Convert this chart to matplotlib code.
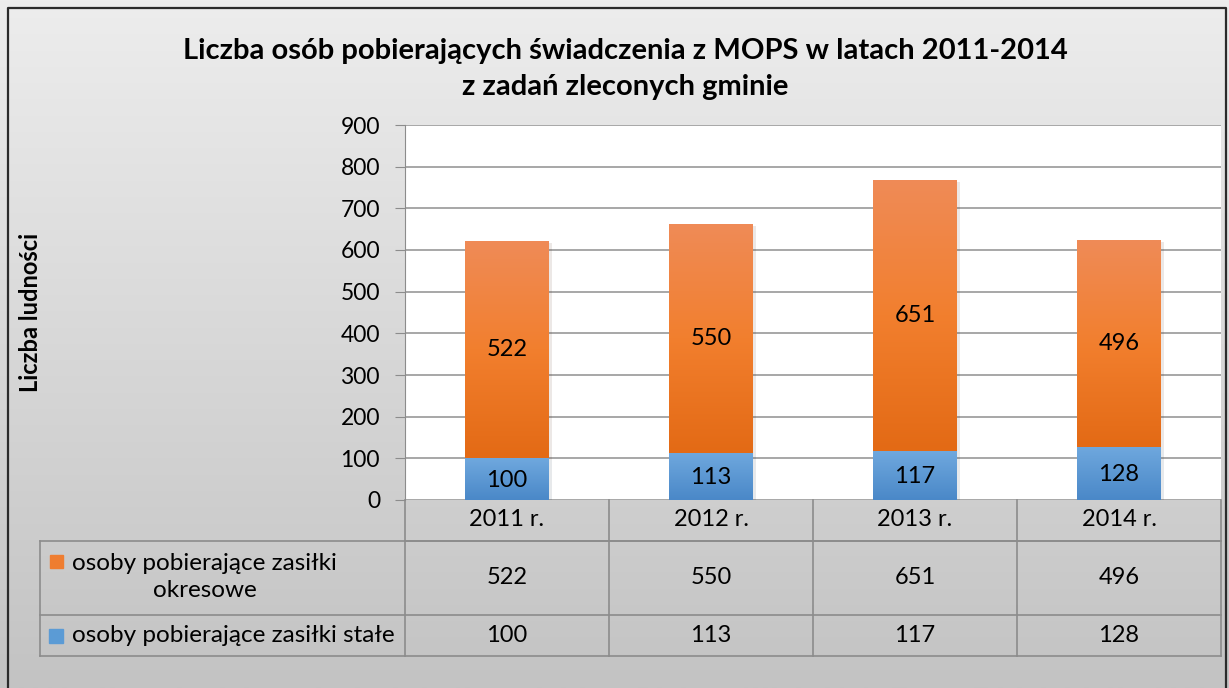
import numpy as np
import matplotlib.pyplot as plt
import matplotlib.transforms as mtransforms
from matplotlib.colors import LinearSegmentedColormap
from matplotlib.patches import Rectangle
import matplotlib.patheffects as pe

# dane
lata = ['2011 r.', '2012 r.', '2013 r.', '2014 r.']
zasilki_stale = [100, 113, 117, 128]
zasilki_okresowe = [522, 550, 651, 496]
nazwa_okresowe = 'osoby pobierające zasiłki\nokresowe'
nazwa_stale = 'osoby pobierające zasiłki stałe'
tytul = 'Liczba osób pobierających świadczenia z MOPS w latach 2011-2014\nz zadań zleconych gminie'
etykieta_y = 'Liczba ludności'

plt.rcParams['font.family'] = ['Lato', 'DejaVu Sans']

W, H = 1229, 688
fig = plt.figure(figsize=(W / 100, H / 100), dpi=100)

# tło z gradientem
bg = fig.add_axes([0, 0, 1, 1], zorder=-5)
grad = np.linspace(0, 1, 256).reshape(-1, 1)
cmap_bg = LinearSegmentedColormap.from_list('bg', ['#ededed', '#c3c3c3'])
bg.imshow(grad, aspect='auto', cmap=cmap_bg, extent=[0, 1, 0, 1], origin='upper')
bg.set_xlim(0, 1)
bg.set_ylim(0, 1)
bg.axis('off')
# ramka
bg.plot([8 / W, 8 / W, 1226 / W, 1226 / W], [0, 1 - 8 / H, 1 - 8 / H, 0],
        color='#2b2b2b', lw=1.6, transform=bg.transAxes, clip_on=False)

ax = fig.add_axes([405 / W, 1 - 500 / H, 816 / W, 375 / H])
ax.set_facecolor('white')

x = np.arange(len(lata))
szer = 0.41
cien = [pe.SimplePatchShadow(offset=(2, -1.5), alpha=0.1), pe.Normal()]
b1 = ax.bar(x, zasilki_stale, szer, color='#5b9bd5', zorder=3, path_effects=cien)
b2 = ax.bar(x, zasilki_okresowe, szer, bottom=zasilki_stale, color='#ed7d31', zorder=3,
            path_effects=cien)

cmap_nieb = LinearSegmentedColormap.from_list('n', ['#4a88c8', '#6fa8de'])
cmap_pom = LinearSegmentedColormap.from_list('p', ['#e36a15', '#f27f2e', '#ef8b57'])
g = np.linspace(0, 1, 128).reshape(-1, 1)
for bars, cm in [(b1, cmap_nieb), (b2, cmap_pom)]:
    for p in bars:
        im = ax.imshow(g, cmap=cm, aspect='auto', origin='lower', zorder=4,
                       extent=[p.get_x(), p.get_x() + p.get_width(),
                               p.get_y(), p.get_y() + p.get_height()])
        im.set_clip_path(p)

# etykiety wartości
fs = 16.5
ft = 17
for i in x:
    ax.text(i, zasilki_stale[i] / 2 - 3, str(zasilki_stale[i]), ha='center', va='center',
            fontsize=ft, zorder=5)
    ax.text(i, zasilki_stale[i] + zasilki_okresowe[i] / 2, str(zasilki_okresowe[i]),
            ha='center', va='center', fontsize=ft, zorder=5)

ax.set_xlim(-0.5, len(lata) - 0.5)
ax.set_ylim(0, 900)
ax.set_yticks(range(0, 901, 100))
ax.set_xticks([])
ax.grid(axis='y', color='#a0a0a0', lw=1.3, zorder=0)
ax.set_axisbelow(True)
for s in ['top', 'right', 'bottom']:
    ax.spines[s].set_visible(False)
ax.spines['left'].set_color('#8c8c8c')
ax.tick_params(axis='y', length=7, color='#8c8c8c', labelsize=fs, pad=11)

# tabela danych
tr = mtransforms.blended_transform_factory(ax.transData, ax.transAxes)


def fy(py):
    return (500 - py) / 375


lewo = -0.5 - 365 / 204
kol = '#8c8c8c'
n = len(lata)
ax.plot([-0.5, n - 0.5], [fy(541)] * 2, color=kol, lw=1.2, transform=tr, clip_on=False)
ax.plot([lewo, n - 0.5], [fy(541)] * 2, color=kol, lw=1.2, transform=tr, clip_on=False)
ax.plot([lewo, n - 0.5], [fy(615)] * 2, color=kol, lw=1.2, transform=tr, clip_on=False)
ax.plot([lewo, n - 0.5], [fy(656)] * 2, color=kol, lw=1.2, transform=tr, clip_on=False)
ax.plot([lewo, lewo], [fy(541), fy(656)], color=kol, lw=1.2, transform=tr, clip_on=False)
for k in range(n + 1):
    ax.plot([k - 0.5, k - 0.5], [fy(500), fy(656)], color=kol, lw=1.2, transform=tr,
            clip_on=False)

for i in x:
    ax.text(i, fy(520), lata[i], ha='center', va='center', fontsize=ft, transform=tr)
    ax.text(i, fy(578), str(zasilki_okresowe[i]), ha='center', va='center', fontsize=ft,
            transform=tr)
    ax.text(i, fy(636), str(zasilki_stale[i]), ha='center', va='center', fontsize=ft,
            transform=tr)

fig.text(72 / W, 1 - 577 / H, nazwa_okresowe, ha='left', va='center', multialignment='center',
         fontsize=17.5, linespacing=1.3)
fig.text(72 / W, 1 - 636 / H, nazwa_stale, ha='left', va='center', fontsize=17.5)
fig.add_artist(Rectangle((50 / W, 1 - 568 / H), 13 / W, 13 / H, transform=fig.transFigure,
                         color='#ef7d30'))
fig.add_artist(Rectangle((49 / W, 1 - 643 / H), 14 / W, 14 / H, transform=fig.transFigure,
                         color='#5b9bd5'))

fig.text(625 / W, 1 - 69 / H, tytul, ha='center', va='center', fontsize=21,
         fontweight='bold', linespacing=1.45)
fig.text(31 / W, 1 - 312 / H, etykieta_y, rotation=90, ha='center', va='center',
         fontsize=17, fontweight='bold')

fig.savefig('out.png', dpi=100)
